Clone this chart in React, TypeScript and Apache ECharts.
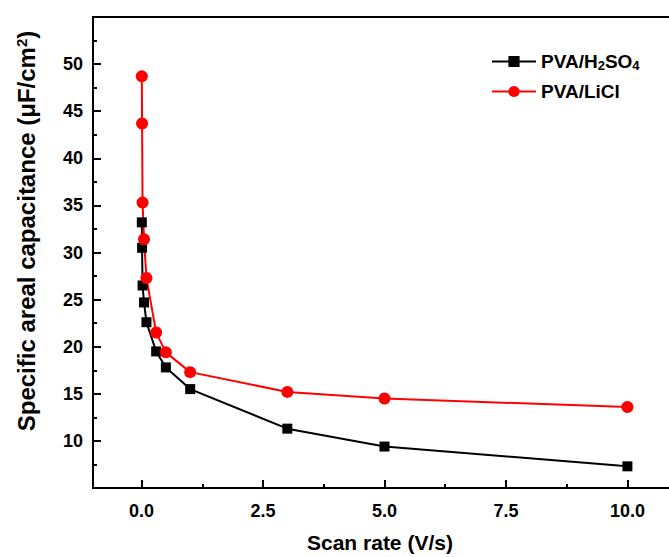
import React, { useEffect, useRef } from 'react';
import * as echarts from 'echarts';

const scanRates = [0.005, 0.01, 0.02, 0.05, 0.1, 0.3, 0.5, 1, 3, 5, 10];
const h2so4 = [33.2, 30.5, 26.5, 24.7, 22.6, 19.5, 17.8, 15.5, 11.3, 9.4, 7.3];
const licl = [48.7, 43.7, 35.3, 31.4, 27.3, 21.5, 19.4, 17.3, 15.2, 14.5, 13.6];
const xTicks = [0, 2.5, 5, 7.5, 10];
const xMinorTicks = [1.25, 3.75, 6.25, 8.75];
const yLabels = [10, 15, 20, 25, 30, 35, 40, 45, 50];
const seriesNames = ['PVA/H2SO4', 'PVA/LiCl'];

export default function App() {
  const ref = useRef<HTMLDivElement>(null);
  useEffect(() => {
    const chart = echarts.init(ref.current!, null, { renderer: 'svg' });
    const font = '"Liberation Sans", Arial, sans-serif';
    const axisLineStyle = { color: '#000', width: 2 };
    chart.setOption({
      animation: false,
      backgroundColor: '#fff',
      grid: {
        left: 93, top: 17, width: 583, height: 471,
        outerBoundsMode: 'none', containLabel: false,
        show: true, borderColor: '#000', borderWidth: 2, backgroundColor: 'transparent',
      },
      xAxis: [
        {
          type: 'value', min: -1, max: 11,
          axisLine: { onZero: false, lineStyle: axisLineStyle },
          axisTick: { inside: true, length: 8, lineStyle: axisLineStyle, customValues: xTicks },
          axisLabel: {
            customValues: xTicks,
            formatter: (v: number) => v.toFixed(1),
            fontSize: 18, fontWeight: 'bold', color: '#000', fontFamily: font, margin: 14,
          },
          splitLine: { show: false },
        },
        {
          type: 'value', min: -1, max: 11, position: 'bottom',
          axisLine: { show: false, onZero: false },
          axisTick: { inside: true, length: 4, lineStyle: axisLineStyle, customValues: xMinorTicks },
          axisLabel: { show: false },
          splitLine: { show: false },
        },
      ],
      yAxis: {
        type: 'value', min: 5, max: 55, interval: 5,
        axisLine: { onZero: false, lineStyle: axisLineStyle },
        axisTick: { inside: true, length: 8, lineStyle: axisLineStyle },
        minorTick: { show: true, splitNumber: 2, length: 4, lineStyle: axisLineStyle },
        axisLabel: {
          customValues: yLabels,
          fontSize: 18, fontWeight: 'bold', color: '#000', fontFamily: font, margin: 10,
        },
        splitLine: { show: false },
        minorSplitLine: { show: false },
      },
      legend: {
        orient: 'vertical', left: 486, top: 47,
        itemWidth: 44, itemHeight: 14, itemGap: 10,
        data: seriesNames,
        formatter: (name: string) => (name === 'PVA/H2SO4' ? 'PVA/H{sub|2}SO{sub|4}' : name),
        textStyle: {
          fontSize: 19, fontWeight: 'bold', color: '#000', fontFamily: font,
          rich: {
            sub: { fontSize: 13, fontWeight: 'bold', color: '#000', fontFamily: font, verticalAlign: 'bottom', padding: [8, 0, 0, 0] },
          },
        },
      },
      graphic: [
        {
          type: 'text', left: 307, top: 532,
          style: { text: 'Scan rate (V/s)', fontSize: 21, fontWeight: 'bold', fill: '#000', fontFamily: font },
        },
        {
          type: 'text', x: 26, y: 231, rotation: Math.PI / 2,
          style: {
            text: 'Specific areal capacitance (μF/cm{sup|2})',
            fontSize: 24, fontWeight: 'bold', fill: '#000', fontFamily: font,
            align: 'center', verticalAlign: 'middle',
            rich: { sup: { fontSize: 15, fontWeight: 'bold', fill: '#000', fontFamily: font, verticalAlign: 'top' } },
          },
        },
      ],
      series: [
        {
          name: seriesNames[0], type: 'line',
          data: scanRates.map((x, i) => [x, h2so4[i]]),
          symbol: 'rect', symbolSize: 10,
          lineStyle: { color: '#000', width: 2 }, itemStyle: { color: '#000' },
        },
        {
          name: seriesNames[1], type: 'line',
          data: scanRates.map((x, i) => [x, licl[i]]),
          symbol: 'circle', symbolSize: 12,
          lineStyle: { color: '#ff0000', width: 2 }, itemStyle: { color: '#ff0000' },
        },
      ],
    });
    return () => chart.dispose();
  }, []);
  return (
    <div style={{ position: 'absolute', left: 0, top: 0, width: 669, height: 557, overflow: 'hidden' }}>
      <div ref={ref} style={{ width: 800, height: 557 }} />
    </div>
  );
}
